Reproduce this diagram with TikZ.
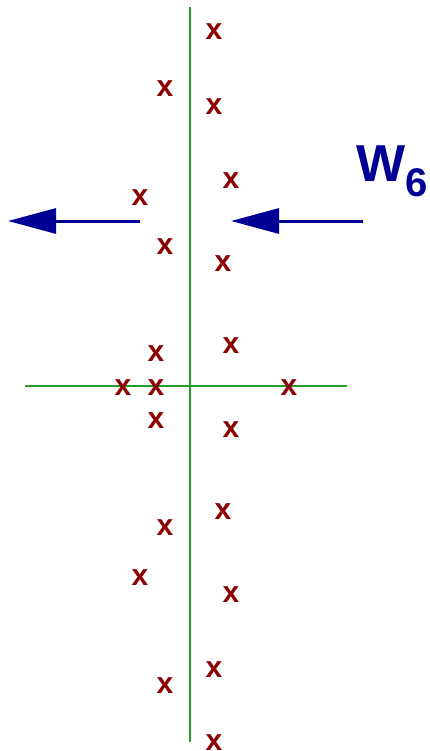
\documentclass[tikz,border=0pt]{standalone}
\usepackage{fontspec}
\setmainfont{Liberation Sans}
\usetikzlibrary{arrows.meta}
\definecolor{axisgreen}{RGB}{40,155,40}
\definecolor{xred}{RGB}{139,0,0}
\definecolor{wblue}{RGB}{0,0,150}
\tikzset{
  axis/.style={draw=axisgreen, line width=1.8pt},
  pole/.style={inner sep=0pt, text=xred, font=\fontsize{30}{30}\selectfont\bfseries, yshift=-1pt},
  warrow/.style={draw=wblue, line width=3pt, -{Triangle[length=48pt,width=25pt]}},
}
\begin{document}
\begin{tikzpicture}[x=1pt,y=-1pt]
\useasboundingbox (0,0) rectangle (429,751);
\coordinate (vt) at (190,7);
\coordinate (vb) at (190,742);
\coordinate (hl) at (25,386);
\coordinate (hr) at (347,386);
\draw[axis] (vt) -- (vb);
\draw[axis] (hl) -- (hr);
\foreach \px/\py [count=\i] in {214/31,165/88,214/106,231/180,140/197,165/246,223/263,156/353,231/345,123/387,156/387,289/387,156/420,231/429,165/527,223/511,140/577,231/594,214/669,165/685,214/742}
  \node[pole] (p\i) at (\px,\py) {x};
\coordinate (la) at (140,221);
\coordinate (lt) at (8,221);
\coordinate (ra) at (363,221);
\coordinate (rt) at (231,221);
\draw[warrow] (la) -- (lt);
\draw[warrow] (ra) -- (rt);
\node[inner sep=0pt, text=wblue, font=\fontsize{52}{52}\selectfont\bfseries, anchor=base west] (w) at (356,182) {W\raisebox{-15pt}{\fontsize{40}{40}\selectfont 6}};
\end{tikzpicture}
\end{document}
